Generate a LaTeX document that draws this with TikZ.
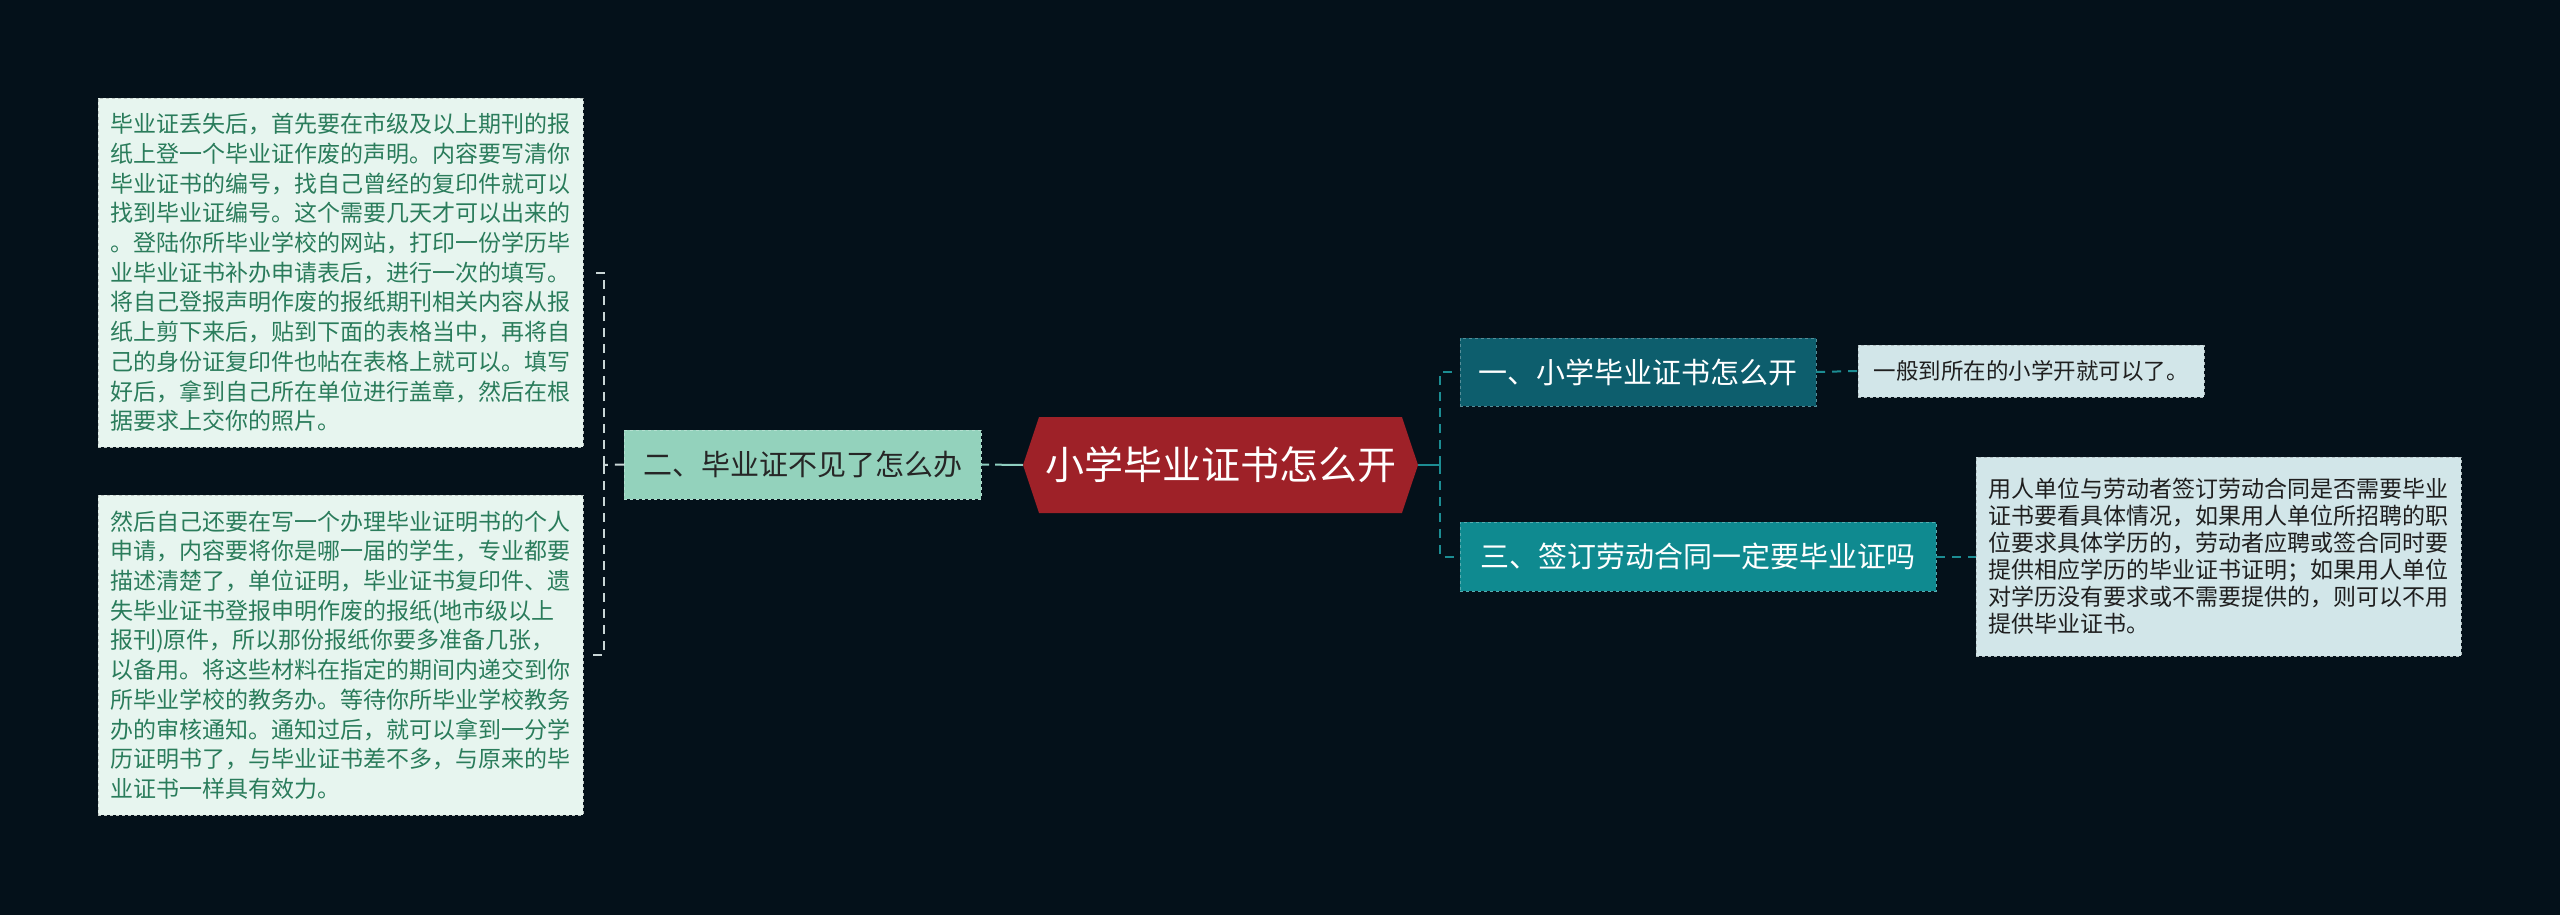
\documentclass[tikz,border=0pt]{standalone}
\usepackage{fontspec}
\setmainfont{Noto Sans CJK SC}
\usetikzlibrary{shapes.symbols,positioning}
\definecolor{bgdark}{HTML}{04111A}
\definecolor{rootred}{HTML}{9E2128}
\definecolor{tealdark}{HTML}{0D5E6D}
\definecolor{tealmid}{HTML}{0F8A90}
\definecolor{mintmid}{HTML}{93D2BC}
\definecolor{mintpale}{HTML}{E7F5EF}
\definecolor{bluepale}{HTML}{D2E6E9}
\definecolor{leafgreen}{HTML}{2A7C5B}
\definecolor{linkteal}{HTML}{1C8D93}
\definecolor{linkmint}{HTML}{8FCFC0}
\definecolor{linkgray}{HTML}{C9D6D6}
\tikzset{topic/.style={draw,dashed,inner sep=0pt,align=center,minimum height=69pt,font=\fontsize{29}{35}\selectfont},
  leafbox/.style={draw,dashed,inner xsep=12pt,inner ysep=0pt,align=left,font=\fontsize{23}{29.7}\selectfont},
  link/.style={dashed,dash pattern=on 9pt off 7pt,line width=2pt}}
\begin{document}
\begin{tikzpicture}[x=1pt,y=-1pt,
  rootbox/.style={signal,signal to=west and east,signal pointer angle=143,fill=rootred,text=white,
    minimum width=395pt,minimum height=96pt,inner sep=0pt,font=\fontsize{39}{46}\selectfont}]
\useasboundingbox[fill=bgdark] (0,0) rectangle (2560,915);
% centre and first level
\node[rootbox] (root) at (1220.5,465){小学毕业证书怎么开};
\node[topic,fill=mintmid,draw=mintmid!70!white,text=black!85,minimum width=357pt] (lost) at (802.5,464.5){二、毕业证不见了怎么办};
\node[topic,fill=tealdark,draw=tealdark!70!white,text=white,minimum width=356pt,minimum height=68pt] (how) at (1638,372){一、小学毕业证书怎么开};
\node[topic,fill=tealmid,draw=tealmid!70!white,text=white,minimum width=476pt] (contract) at (1698,556.5){三、签订劳动合同一定要毕业证吗};
% leaves
\node[leafbox,fill=mintpale,draw=mintpale!60!gray,text=leafgreen,text width=461pt,minimum height=349pt] (lostA) at (340.5,272.5){%
毕业证丢失后，首先要在市级及以上期刊的报\\
纸上登一个毕业证作废的声明。内容要写清你\\
毕业证书的编号，找自己曾经的复印件就可以\\
找到毕业证编号。这个需要几天才可以出来的\\
。登陆你所毕业学校的网站，打印一份学历毕\\
业毕业证书补办申请表后，进行一次的填写。\\
将自己登报声明作废的报纸期刊相关内容从报\\
纸上剪下来后，贴到下面的表格当中，再将自\\
己的身份证复印件也帖在表格上就可以。填写\\
好后，拿到自己所在单位进行盖章，然后在根\\
据要求上交你的照片。};
\node[leafbox,fill=mintpale,draw=mintpale!60!gray,text=leafgreen,text width=461pt,minimum height=320pt] (lostB) at (340.5,655){%
然后自己还要在写一个办理毕业证明书的个人\\
申请，内容要将你是哪一届的学生，专业都要\\
描述清楚了，单位证明，毕业证书复印件、遗\\
失毕业证书登报申明作废的报纸(地市级以上\\
报刊)原件，所以那份报纸你要多准备几张，\\
以备用。将这些材料在指定的期间内递交到你\\
所毕业学校的教务办。等待你所毕业学校教务\\
办的审核通知。通知过后，就可以拿到一分学\\
历证明书了，与毕业证书差不多，与原来的毕\\
业证书一样具有效力。};
\node[leafbox,fill=bluepale,draw=bluepale!60!gray,text=black!88,align=center,inner xsep=0pt,minimum width=346pt,minimum height=52pt,font=\fontsize{22.5}{27}\selectfont] (howA) at (2031,371){一般到所在的小学开就可以了。};
\node[leafbox,fill=bluepale,draw=bluepale!60!gray,text=black!88,text width=461pt,minimum height=199pt,font=\fontsize{23}{27}\selectfont] (contractA) at (2218.5,556.5){%
用人单位与劳动者签订劳动合同是否需要毕业\\
证书要看具体情况，如果用人单位所招聘的职\\
位要求具体学历的，劳动者应聘或签合同时要\\
提供相应学历的毕业证书证明；如果用人单位\\
对学历没有要求或不需要提供的，则可以不用\\
提供毕业证书。};
% connectors
\coordinate (lbr) at (604,465);
\coordinate (rbr) at (1440,465);
\draw[link,linkmint,dash pattern=on 8pt off 6pt on 40pt] (lost.east) -- (root.west);
\draw[link,linkgray] (lost.west) -- (lbr);
\draw[link,linkgray,shorten >=7pt] (lbr) |- (lostA.east);
\draw[link,linkgray,shorten >=7pt] (lbr) |- (lostB.east);
\draw[line width=2pt,linkteal] (root.east) -- (rbr);
\draw[link,linkteal,shorten >=6pt] (rbr) |- (how.west);
\draw[link,linkteal,shorten >=6pt] (rbr) |- (contract.west);
\draw[link,linkteal] (how.east) -- (howA.west);
\draw[link,linkteal] (contract.east) -- (contractA.west);
\end{tikzpicture}
\end{document}
